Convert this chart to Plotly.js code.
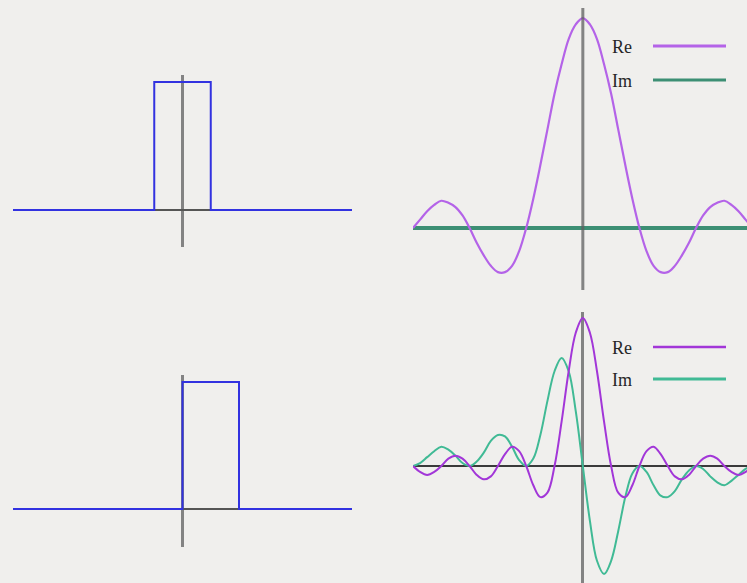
<!DOCTYPE html>
<html>
<head>
<meta charset="utf-8">
<script src="https://cdn.plot.ly/plotly-3.0.1.min.js"></script>
<style>
  html, body { margin: 0; padding: 0; background: #f0efed; }
  #chart { width: 747px; height: 583px; }
</style>
</head>
<body>
<div id="chart"></div>
<script>
// Rectangular pulse (centred and shifted) and the real / imaginary parts of its spectrum.

// time-domain pulses
const pulseT = [-3, -0.5, -0.5, 0.5, 0.5, 3];
const pulseShiftedT = [-3, 0, 0, 1, 1, 3];
const pulseLevel = [0, 0, 1, 1, 0, 0];

// frequency samples, step 1/8
const freq = [-3, -2.875, -2.75, -2.625, -2.5, -2.375, -2.25, -2.125, -2, -1.875, -1.75, -1.625,
  -1.5, -1.375, -1.25, -1.125, -1, -0.875, -0.75, -0.625, -0.5, -0.375, -0.25, -0.125, 0,
  0.125, 0.25, 0.375, 0.5, 0.625, 0.75, 0.875, 1, 1.125, 1.25, 1.375, 1.5, 1.625, 1.75, 1.875,
  2, 2.125, 2.25, 2.375, 2.5, 2.625, 2.75, 2.875, 3];

// spectrum of the centred pulse
const reCentred = [0, .04, .08, .11, .13, .12, .10, .06, 0, -.07, -.13, -.18, -.21, -.21, -.18, -.11,
  0, .14, .30, .47, .64, .78, .90, .97, 1, .97, .90, .78, .64, .47, .30, .14,
  0, -.11, -.18, -.21, -.21, -.18, -.13, -.07, 0, .06, .10, .12, .13, .11, .08, .04, 0];
const imCentred = [0, 0, 0, 0, 0, 0, 0, 0, 0, 0, 0, 0, 0, 0, 0, 0, 0, 0, 0, 0, 0, 0, 0, 0, 0,
  0, 0, 0, 0, 0, 0, 0, 0, 0, 0, 0, 0, 0, 0, 0, 0, 0, 0, 0, 0, 0, 0, 0, 0];

// spectrum of the shifted pulse
const reShifted = [0, -.04, -.06, -.04, 0, .05, .07, .05, 0, -.06, -.09, -.07, 0, .08, .13, .10,
  0, -.13, -.21, -.18, 0, .30, .64, .90, 1, .90, .64, .30, 0, -.18, -.21, -.13,
  0, .10, .13, .08, 0, -.07, -.09, -.06, 0, .05, .07, .05, 0, -.04, -.06, -.04, 0];
const imShifted = [0, .02, .06, .10, .13, .11, .07, .02, 0, .03, .09, .17, .21, .20, .13, .04,
  0, .05, .21, .44, .64, .73, .64, .37, 0, -.37, -.64, -.73, -.64, -.44, -.21, -.05,
  0, -.04, -.13, -.20, -.21, -.17, -.09, -.03, 0, -.02, -.07, -.11, -.13, -.10, -.06, -.02, 0];

const legendNames = ['Re', 'Im'];

const W = 747, H = 583;
const fx = p => p / W;
const fy = p => 1 - p / H;

const BLUE = '#3232e0';
const RE_TOP = '#b463e8';
const IM_TOP = '#3d8f74';
const RE_BOT = '#a236d8';
const IM_BOT = '#40ba95';
const AXIS_V = 'rgba(95,95,95,0.75)';

const traces = [
  { x: pulseT, y: pulseLevel, xaxis: 'x', yaxis: 'y', mode: 'lines',
    line: { color: BLUE, width: 2 }, hoverinfo: 'skip' },
  { x: freq, y: imCentred, xaxis: 'x2', yaxis: 'y2', mode: 'lines',
    line: { color: IM_TOP, width: 4 }, hoverinfo: 'skip' },
  { x: freq, y: reCentred, xaxis: 'x2', yaxis: 'y2', mode: 'lines',
    line: { color: RE_TOP, width: 2.2, shape: 'spline', smoothing: 1 }, hoverinfo: 'skip' },
  { x: pulseShiftedT, y: pulseLevel, xaxis: 'x3', yaxis: 'y3', mode: 'lines',
    line: { color: BLUE, width: 2 }, hoverinfo: 'skip' },
  { x: freq, y: imShifted, xaxis: 'x4', yaxis: 'y4', mode: 'lines',
    line: { color: IM_BOT, width: 2, shape: 'spline', smoothing: 1 }, hoverinfo: 'skip' },
  { x: freq, y: reShifted, xaxis: 'x4', yaxis: 'y4', mode: 'lines',
    line: { color: RE_BOT, width: 2, shape: 'spline', smoothing: 1 }, hoverinfo: 'skip' }
];

function ax(domain, range, extra) {
  return Object.assign({
    domain: domain, range: range, showgrid: false, showline: false, ticks: '',
    showticklabels: false, zeroline: false, fixedrange: true
  }, extra || {});
}
const vZero = { zeroline: true, zerolinecolor: AXIS_V, zerolinewidth: 3 };
const hZero = c => ({ zeroline: true, zerolinecolor: c, zerolinewidth: 2 });

const layout = {
  width: W, height: H,
  margin: { l: 0, r: 0, t: 0, b: 0 },
  paper_bgcolor: '#f0efed',
  plot_bgcolor: 'rgba(0,0,0,0)',
  showlegend: false,
  xaxis:  ax([fx(13), fx(352)], [-3, 3], Object.assign({ anchor: 'y' }, vZero)),
  yaxis:  ax([fy(247), fy(75)], [-0.289, 1.055], Object.assign({ anchor: 'x' }, hZero('#555'))),
  xaxis2: ax([fx(413), 1], [-3, 2.9], { anchor: 'y2' }),
  yaxis2: ax([fy(290), fy(8)], [-0.295, 1.048], { anchor: 'x2' }),
  xaxis3: ax([fx(13), fx(352)], [-3, 3], Object.assign({ anchor: 'y3' }, vZero)),
  yaxis3: ax([fy(547), fy(375)], [-0.30, 1.055], Object.assign({ anchor: 'x3' }, hZero('#555'))),
  xaxis4: ax([fx(413), 1], [-3, 2.9], Object.assign({ anchor: 'y4' }, vZero)),
  yaxis4: ax([0, fy(312)], [-0.79, 1.04], Object.assign({ anchor: 'x4' }, { zeroline: true, zerolinecolor: '#3a3a3a', zerolinewidth: 1.6 })),
  shapes: [
    // vertical axis of the centred spectrum, drawn over the flat imaginary part
    { type: 'line', xref: 'x2', yref: 'y2 domain', x0: 0, x1: 0, y0: 0, y1: 1,
      line: { color: AXIS_V, width: 3 }, layer: 'above' },
    // legend keys
    { type: 'line', xref: 'paper', yref: 'paper', x0: fx(653), x1: fx(726), y0: fy(46), y1: fy(46),
      line: { color: RE_TOP, width: 3 } },
    { type: 'line', xref: 'paper', yref: 'paper', x0: fx(653), x1: fx(726), y0: fy(80), y1: fy(80),
      line: { color: IM_TOP, width: 3 } },
    { type: 'line', xref: 'paper', yref: 'paper', x0: fx(653), x1: fx(726), y0: fy(347), y1: fy(347),
      line: { color: RE_BOT, width: 2.5 } },
    { type: 'line', xref: 'paper', yref: 'paper', x0: fx(653), x1: fx(726), y0: fy(379), y1: fy(379),
      line: { color: IM_BOT, width: 3 } }
  ],
  annotations: [
    [legendNames[0], 47], [legendNames[1], 81], [legendNames[0], 348], [legendNames[1], 380]
  ].map(([t, py]) => ({
    text: t, xref: 'paper', yref: 'paper', x: fx(610), y: fy(py),
    xanchor: 'left', yanchor: 'middle', showarrow: false,
    font: { family: 'Liberation Serif, DejaVu Serif, serif', size: 18, color: '#262626' }
  }))
};

Plotly.newPlot('chart', traces, layout, { staticPlot: true, displayModeBar: false });
</script>
</body>
</html>
